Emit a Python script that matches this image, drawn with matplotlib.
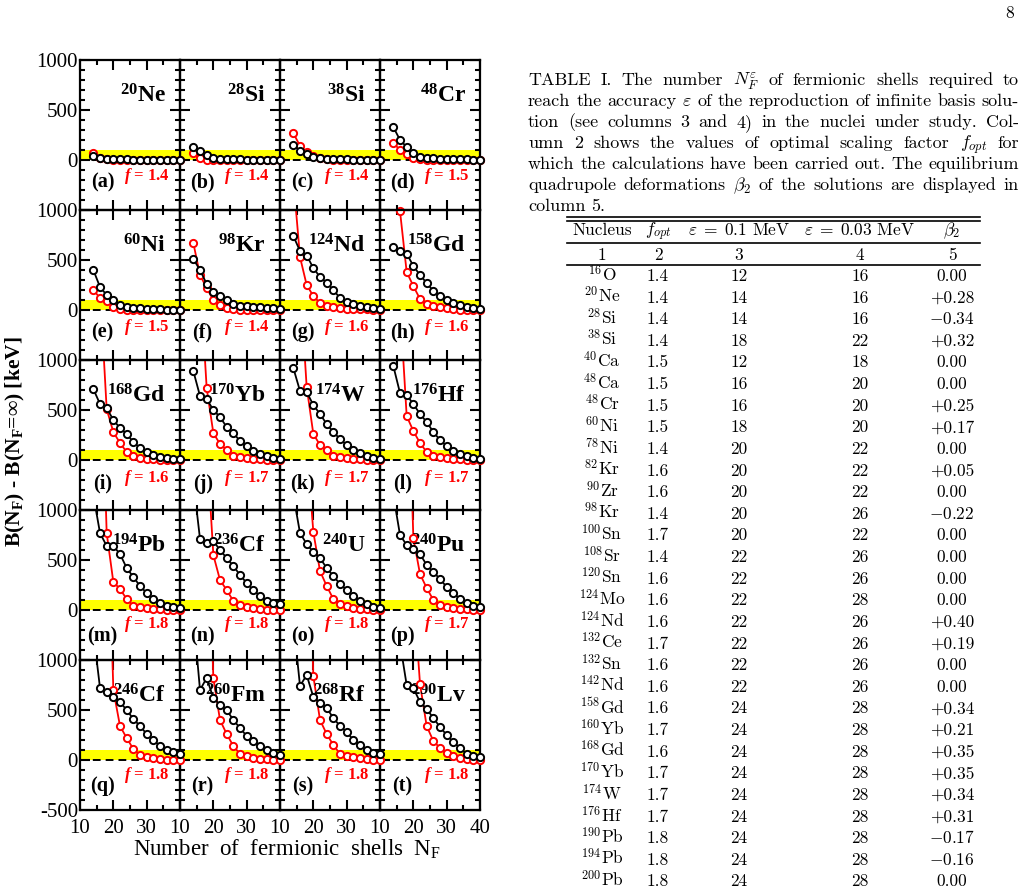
import matplotlib
matplotlib.use("Agg")
import matplotlib.pyplot as plt
from matplotlib.ticker import MultipleLocator
from matplotlib.lines import Line2D

plt.rcParams['font.family'] = 'Liberation Serif'
plt.rcParams['mathtext.fontset'] = 'custom'
plt.rcParams['mathtext.rm'] = 'Liberation Serif'
plt.rcParams['mathtext.bf'] = 'Liberation Serif:bold'
plt.rcParams['mathtext.it'] = 'Liberation Serif:bold:italic'

# ---------------- data ----------------
NF = [14, 16, 18, 20, 22, 24, 26, 28, 30, 32, 34, 36, 38, 40]

PANEL_MASS = ["20", "28", "38", "48", "60", "98", "124", "158", "168", "170",
              "174", "176", "194", "236", "240", "240", "246", "260", "268", "290"]
PANEL_ELEM = ["Ne", "Si", "Si", "Cr", "Ni", "Kr", "Nd", "Gd", "Gd", "Yb",
              "W", "Hf", "Pb", "Cf", "U", "Pu", "Cf", "Fm", "Rf", "Lv"]
PANEL_LETTER = list("abcdefghijklmnopqrst")
PANEL_F = ["1.4", "1.4", "1.4", "1.5", "1.5", "1.4", "1.6", "1.6", "1.6", "1.7",
           "1.7", "1.7", "1.8", "1.8", "1.8", "1.7", "1.8", "1.8", "1.8", "1.8"]

B_NE20 = [40, 20, 15, 10, 8, 6, 5, 5, 4, 4, 3, 3, 3, 2]
R_NE20 = [70, 20, 10, 5, 3, 2, 1, 1, 0, 0, 0, 0, 0, 0]
B_SI28 = [130, 90, 50, 20, 15, 10, 8, 6, 5, 5, 4, 4, 3, 3]
R_SI28 = [70, 20, 5, 2, 1, 0, 0, 0, 0, 0, 0, 0, 0, 0]
B_SI38 = [150, 90, 60, 30, 20, 15, 10, 8, 6, 5, 4, 4, 3, 3]
R_SI38 = [270, 140, 80, 40, 20, 10, 5, 3, 2, 1, 0, 0, 0, 0]
B_CR48 = [330, 200, 130, 70, 35, 25, 20, 15, 12, 10, 8, 6, 5, 4]
R_CR48 = [170, 100, 60, 20, 10, 5, 3, 2, 1, 0, 0, 0, 0, 0]
B_NI60 = [400, 230, 150, 100, 55, 35, 25, 20, 15, 10, 8, 5, 3, 2]
R_NI60 = [200, 120, 90, 30, 10, 5, 3, 2, 1, 0, 0, 0, 0, 0]
B_KR98 = [510, 400, 260, 180, 140, 100, 65, 45, 40, 35, 30, 25, 20, 15]
R_KR98 = [670, 350, 220, 100, 50, 20, 10, 5, 3, 2, 1, 0, 0, 0]
B_ND124 = [740, 590, 545, 420, 330, 275, 200, 120, 80, 60, 45, 35, 25, 15]
R_ND124 = [1310, 530, 250, 140, 70, 40, 27, 20, 15, 12, 10, 8, 5, 3]
B_GD158 = [630, 590, 565, 440, 350, 270, 190, 140, 100, 75, 50, 35, 25, 15]
R_GD158 = [2500, 990, 380, 240, 110, 60, 40, 30, 20, 10, 5, 3, 1, 0]
B_GD168 = [710, 560, 520, 400, 320, 260, 180, 120, 80, 55, 35, 25, 15, 10]
R_GD168 = [3000, 1720, 510, 280, 170, 80, 40, 25, 15, 10, 5, 3, 1, 0]
B_YB170 = [890, 640, 610, 500, 430, 330, 270, 190, 140, 90, 60, 40, 25, 15]
R_YB170 = [3000, 1840, 720, 270, 160, 100, 45, 30, 20, 15, 10, 5, 3, 0]
B_W174 = [920, 690, 680, 550, 460, 360, 280, 210, 150, 100, 70, 40, 25, 15]
R_W174 = [3000, 1800, 730, 260, 150, 100, 40, 30, 20, 15, 10, 5, 3, 0]
B_HF176 = [940, 670, 650, 560, 460, 380, 280, 200, 140, 90, 60, 40, 25, 15]
R_HF176 = [3000, 1560, 440, 290, 170, 80, 40, 30, 20, 15, 8, 5, 3, 0]
B_PB194 = [1150, 770, 640, 640, 560, 420, 330, 240, 170, 110, 70, 40, 30, 20]
R_PB194 = [4000, 3000, 770, 280, 210, 110, 40, 30, 20, 15, 10, 5, 0, 0]
B_CF236 = [1290, 710, 670, 690, 600, 520, 440, 350, 270, 200, 140, 90, 70, 60]
R_CF236 = [4000, 3000, 1675, 550, 300, 200, 90, 50, 30, 20, 10, 5, 0, 0]
B_U240 = [1150, 770, 660, 580, 520, 420, 340, 260, 200, 140, 90, 60, 30, 20]
R_U240 = [4000, 3000, 1660, 780, 390, 240, 110, 60, 40, 25, 15, 10, 5, 0]
B_PU240 = [1150, 750, 650, 610, 560, 450, 380, 310, 230, 170, 110, 70, 40, 30]
R_PU240 = [4000, 3500, 3000, 720, 360, 220, 100, 55, 35, 25, 15, 10, 5, 0]
B_CF246 = [1280, 720, 680, 630, 580, 500, 410, 340, 260, 200, 140, 100, 80, 60]
R_CF246 = [4000, 3500, 3000, 700, 340, 220, 110, 50, 30, 20, 10, 5, 0, 0]
B_FM260 = [1450, 700, 820, 620, 550, 500, 400, 320, 240, 190, 140, 100, 70, 50]
R_FM260 = [4000, 3500, 3000, 820, 400, 260, 140, 60, 40, 25, 15, 10, 5, 0]
B_RF268 = [1390, 740, 850, 630, 570, 520, 420, 340, 280, 200, 150, 100, 70, 60]
R_RF268 = [4000, 3500, 3000, 840, 400, 260, 150, 60, 40, 30, 20, 10, 5, 0]
B_LV290 = [1500, 1170, 750, 720, 580, 510, 420, 330, 250, 180, 120, 60, 40, 30]
R_LV290 = [4000, 3500, 3000, 1720, 760, 340, 190, 120, 70, 40, 25, 10, 5, 0]

BLACK_SETS = [B_NE20, B_SI28, B_SI38, B_CR48, B_NI60, B_KR98, B_ND124, B_GD158,
              B_GD168, B_YB170, B_W174, B_HF176, B_PB194, B_CF236, B_U240, B_PU240,
              B_CF246, B_FM260, B_RF268, B_LV290]
RED_SETS = [R_NE20, R_SI28, R_SI38, R_CR48, R_NI60, R_KR98, R_ND124, R_GD158,
            R_GD168, R_YB170, R_W174, R_HF176, R_PB194, R_CF236, R_U240, R_PU240,
            R_CF246, R_FM260, R_RF268, R_LV290]

# table data
TAB_MASS = ["16", "20", "28", "38", "40", "48", "48", "60", "78", "82", "90", "98",
            "100", "108", "120", "124", "124", "132", "132", "142", "158", "160",
            "168", "170", "174", "176", "190", "194", "200"]
TAB_ELEM = ["O", "Ne", "Si", "Si", "Ca", "Ca", "Cr", "Ni", "Ni", "Kr", "Zr", "Kr",
            "Sn", "Sr", "Sn", "Mo", "Nd", "Ce", "Sn", "Nd", "Gd", "Yb",
            "Gd", "Yb", "W", "Hf", "Pb", "Pb", "Pb"]
TAB_FOPT = ["1.4", "1.4", "1.4", "1.4", "1.5", "1.5", "1.5", "1.5", "1.4", "1.6",
            "1.6", "1.4", "1.7", "1.4", "1.6", "1.6", "1.6", "1.7", "1.6", "1.6",
            "1.6", "1.7", "1.6", "1.7", "1.7", "1.7", "1.8", "1.8", "1.8"]
TAB_EPS01 = ["12", "14", "14", "18", "12", "16", "16", "18", "20", "20", "20", "20",
             "20", "22", "22", "22", "22", "22", "22", "22", "24", "24", "24", "24",
             "24", "24", "24", "24", "24"]
TAB_EPS003 = ["16", "16", "16", "22", "18", "20", "20", "20", "22", "22", "22", "26",
              "22", "26", "26", "28", "26", "26", "26", "26", "28", "28", "28", "28",
              "28", "28", "28", "28", "28"]
TAB_BETA2 = ["0.00", "+0.28", "-0.34", "+0.32", "0.00", "0.00", "+0.25", "+0.17",
             "0.00", "+0.05", "0.00", "-0.22", "0.00", "0.00", "0.00", "0.00",
             "+0.40", "+0.19", "0.00", "0.00", "+0.34", "+0.21", "+0.35", "+0.35",
             "+0.34", "+0.31", "-0.17", "-0.16", "0.00"]

CAPTION = [
    "TABLE I. The number $N_F^\\varepsilon$ of fermionic shells required to",
    "reach the accuracy $\\varepsilon$ of the reproduction of infinite basis solu-",
    "tion (see columns 3 and 4) in the nuclei under study. Col-",
    "umn 2 shows the values of optimal scaling factor $f_{opt}$ for",
    "which the calculations have been carried out. The equilibrium",
    "quadrupole deformations $\\beta_2$ of the solutions are displayed in",
    "column 5.",
]

# ---------------- layout ----------------
W, H, DPI = 1025, 892, 100
fig = plt.figure(figsize=(W / DPI, H / DPI), dpi=DPI)


def fx(px):
    return px / W


def fy(py):
    return 1 - py / H


GRID_L, GRID_T, CELL_W, CELL_H = 80, 60, 100, 150
F_Y = [-160, -170, -180, -135, -150]
LET_Y = [-225, -225, -235, -265, -265]
TICK_FS = 15

for idx in range(20):
    r, c = divmod(idx, 4)
    ax = fig.add_axes([fx(GRID_L + c * CELL_W), fy(GRID_T + (r + 1) * CELL_H),
                       CELL_W / W, CELL_H / H])
    ax.set_zorder(100 - idx)
    ax.patch.set_visible(False)
    ax.set_xlim(10, 40)
    ax.set_ylim(-500, 1000)
    for s in ax.spines.values():
        s.set_linewidth(1.6)
    ax.axhspan(0, 100, color='#ffff00', lw=0, zorder=1)
    ax.axhline(0, color='k', lw=1.4, ls=(0, (4, 2.6)), zorder=2)

    for ys, col, z in ((RED_SETS[idx], '#ff0000', 3), (BLACK_SETS[idx], 'k', 5)):
        ax.plot(NF, ys, color=col, lw=1.3, zorder=z)
        xv = [x for x, y in zip(NF, ys) if y <= 1000]
        yv = [y for y in ys if y <= 1000]
        ax.plot(xv, yv, 'o', ms=5.2, mfc='white', mec=col, mew=1.4,
                clip_on=False, zorder=z + 1)

    ax.text(35.8, 575, r"$^{\mathbf{%s}}\mathbf{%s}$" % (PANEL_MASS[idx], PANEL_ELEM[idx]),
            ha='right', va='baseline', fontsize=17)
    ax.text(16.8, LET_Y[r], "(%s)" % PANEL_LETTER[idx], ha='center', va='center',
            fontsize=14.5, fontweight='bold')
    ax.text(37.0, F_Y[r], r"$f$ = %s" % PANEL_F[idx], ha='right', va='center',
            fontsize=12, fontweight='bold', color='#ff0000')

    ax.set_xticks([10, 20, 30, 40])
    ax.set_yticks([-500, 0, 500, 1000])
    ax.xaxis.set_minor_locator(MultipleLocator(5))
    ax.yaxis.set_minor_locator(MultipleLocator(100))
    ax.tick_params(which='both', direction='in', top=True, right=True,
                   width=1.5, color='k', labelsize=TICK_FS)
    ax.tick_params(which='major', length=7)
    ax.tick_params(which='minor', length=3.5)
    if c == 0:
        ax.set_yticklabels(['-500' if r == 4 else '', '0', '500', '1000'])
        ax.tick_params(axis='y', pad=1.5)
    else:
        ax.tick_params(axis='y', labelleft=False)
    if r == 4:
        ax.set_xticks([10, 20, 30, 40], ['10', '20', '30', '40' if c == 3 else ''])
        ax.tick_params(axis='x', pad=6.5)
    else:
        ax.tick_params(axis='x', labelbottom=False)

fig.text(fx(15), fy(442), r"B(N$_\mathbf{F}$) - B(N$_\mathbf{F}$=∞) [keV]",
         rotation=90, ha='center', va='center', fontsize=15.5, fontweight='bold')
fig.text(fx(287), fy(849), r"Number  of  fermionic  shells  N$_\mathrm{F}$",
         ha='center', va='center', fontsize=16.5)

# ---------------- page text ----------------
CM = dict(family='cmr10', math_fontfamily='cm', color='k')
fig.text(fx(1010), fy(13), "8", ha='center', va='center', fontsize=12.5, **CM)

renderer = fig.canvas.get_renderer()
CAP_X0, CAP_X1 = 528, 1019
CAP_Y0, CAP_DY = 85, 21.0
CAP_FS = 13
for i, line in enumerate(CAPTION):
    words = line.split(" ")
    texts = [fig.text(0, 0, w, fontsize=CAP_FS, ha='left', va='baseline', **CM)
             for w in words]
    widths = [t.get_window_extent(renderer=renderer).width for t in texts]
    y = CAP_Y0 + i * CAP_DY
    if i < len(CAPTION) - 1:
        gap = (CAP_X1 - CAP_X0 - sum(widths)) / (len(words) - 1)
    else:
        gap = 5.5
    x = CAP_X0
    for t, wdt in zip(texts, widths):
        t.set_position((fx(x), fy(y)))
        x += wdt + gap

TAB_X0, TAB_X1 = 567, 980
COL_X = [602, 658, 739, 860, 952]
TAB_FS = 12.5


def hrule(y, lw=1.2):
    fig.add_artist(Line2D([fx(TAB_X0), fx(TAB_X1)], [fy(y), fy(y)], lw=lw, color='k'))


hrule(216.5)
hrule(220.5)
hrule(243)
hrule(265)

headers = ["Nucleus", "$f_{opt}$", "$\\varepsilon\\;=\\;0.1$ MeV",
           "$\\varepsilon\\;=\\;0.03$ MeV", "$\\beta_2$"]
for xc, s in zip(COL_X, headers):
    fig.text(fx(xc), fy(235), s, ha='center', va='baseline', fontsize=TAB_FS, **CM)
for k, xc in enumerate(COL_X):
    fig.text(fx(xc), fy(260), str(k + 1), ha='center', va='baseline', fontsize=TAB_FS, **CM)

ROW_Y0, ROW_DY = 281, 21.62
for i in range(len(TAB_MASS)):
    y = ROW_Y0 + i * ROW_DY
    b = TAB_BETA2[i]
    if b.startswith('-'):
        b = "$-$" + b[1:]
    vals = ["$^{%s}$%s" % (TAB_MASS[i], TAB_ELEM[i]), TAB_FOPT[i], TAB_EPS01[i],
            TAB_EPS003[i], b]
    for xc, s in zip(COL_X, vals):
        fig.text(fx(xc), fy(y), s, ha='center', va='baseline', fontsize=TAB_FS, **CM)

fig.savefig("out.png", dpi=DPI)
